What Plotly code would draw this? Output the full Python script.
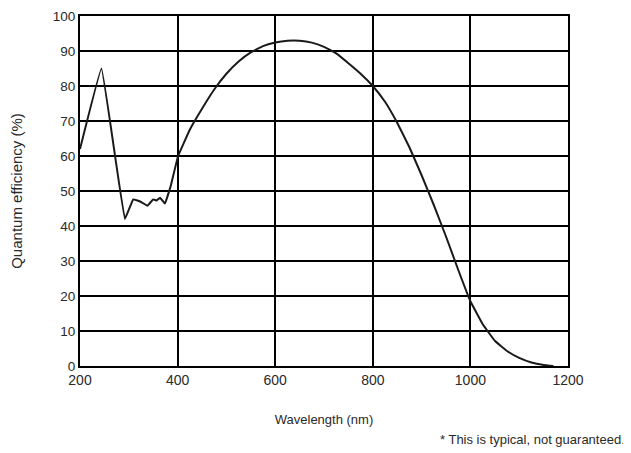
import plotly.graph_objects as go

wavelength = [200, 244, 292, 309, 323, 338, 350, 357, 364, 374, 386, 401,
              425, 450, 475, 500, 525, 550, 575, 600, 625, 650, 675, 700, 725,
              750, 775, 800, 825, 850, 875, 900, 925, 950, 975, 1000, 1025,
              1050, 1075, 1100, 1125, 1150, 1170]
qe = [62, 85, 42, 47.6, 47.0, 45.8, 47.6, 47.3, 48.1, 46.4, 51.5, 60,
      67.5, 73.5, 79, 83.5, 87, 89.6, 91.4, 92.4, 92.9, 92.9, 92.4, 91.2, 89.3,
      86.5, 83.5, 80, 75.5, 69.5, 62.5, 54.5, 46, 37, 27.5, 18.5, 12,
      7.2, 4.3, 2.3, 1.0, 0.3, 0]

x_ticks = [200, 400, 600, 800, 1000, 1200]
y_ticks = [0, 10, 20, 30, 40, 50, 60, 70, 80, 90, 100]

fig = go.Figure()
fig.add_trace(go.Scatter(x=wavelength, y=qe, mode="lines",
                         line=dict(color="#1a1a1a", width=2, shape="spline", smoothing=0.2),
                         showlegend=False, hoverinfo="skip"))

font = "Liberation Sans, Arial, sans-serif"
# page body has an 8px margin, so the figure is sized to fill 631x453 from (8, 8)
fig.update_layout(
    width=623, height=445,
    margin=dict(l=72, r=63, t=8, b=87, autoexpand=False),
    paper_bgcolor="white", plot_bgcolor="white",
    font=dict(family=font, color="#2a2a2a", size=13),
    xaxis=dict(range=[200, 1200], tickvals=x_ticks, showgrid=True,
               gridcolor="black", gridwidth=2, zeroline=False, automargin=False,
               showline=True, linecolor="black", linewidth=2, mirror=True,
               ticks="", ticklen=0, tickfont=dict(size=14),
               title=dict(text="Wavelength (nm)", font=dict(size=13), standoff=28)),
    yaxis=dict(range=[0, 100], tickvals=y_ticks, showgrid=True,
               gridcolor="black", gridwidth=2, zeroline=False, automargin=False,
               showline=True, linecolor="black", linewidth=2, mirror=True,
               ticks="", ticklen=0, tickfont=dict(size=13.5), ticklabeloverflow="allow",
               title=dict(text="Quantum efficiency (%)", font=dict(size=15), standoff=34)),
    annotations=[dict(text="* This is typical, not guaranteed.", xref="paper", yref="paper",
                      x=1.121, y=-0.211, xanchor="right", yanchor="middle",
                      showarrow=False, font=dict(size=13, family=font, color="#2a2a2a"))],
)
fig.write_html("out.html")
